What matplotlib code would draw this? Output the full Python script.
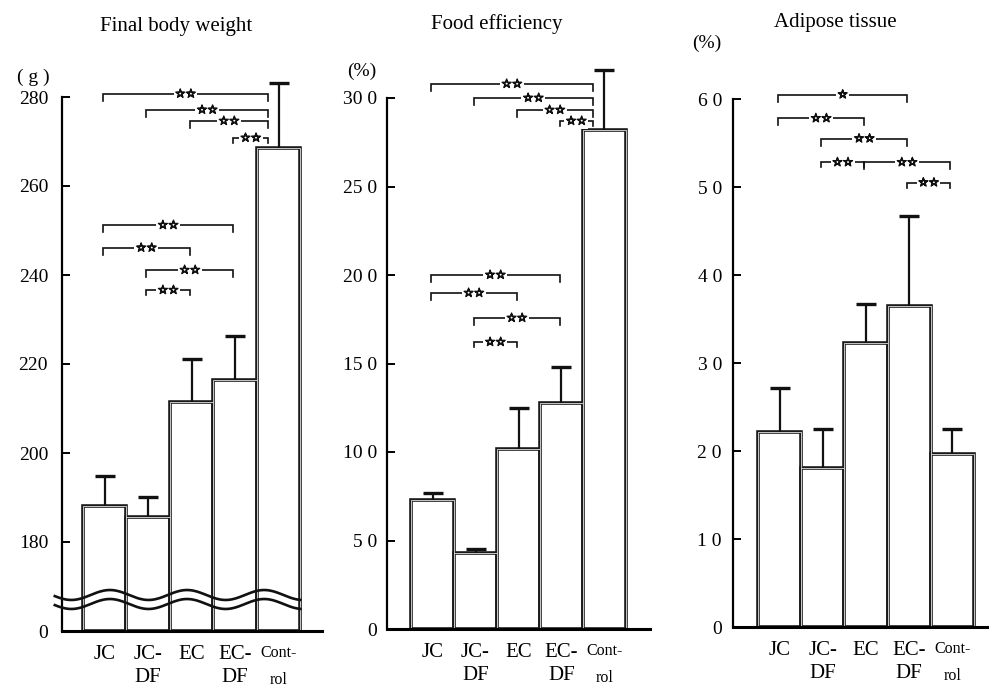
import numpy as np
import matplotlib
matplotlib.use("Agg")
import matplotlib.pyplot as plt
import matplotlib.patheffects as pe

plt.rcParams['font.family'] = ['Liberation Serif', 'DejaVu Serif']

# ---------------- data ----------------
categories = ["JC", "JC-\nDF", "EC", "EC-\nDF", "Cont-\nrol"]

weight_mean = [188.1, 185.6, 211.4, 216.4, 268.5]
weight_sd = [6.7, 4.5, 9.8, 9.9, 14.6]
weight_ticks = [160, 180, 200, 220, 240, 260, 280]
weight_ticklabels = ["0", "180", "200", "220", "240", "260", "280"]

food_mean = [7.29, 4.29, 10.17, 12.77, 28.19]
food_sd = [0.39, 0.23, 2.32, 2.03, 3.39]
food_ticks = [0, 5, 10, 15, 20, 25, 30]
food_ticklabels = ["0", "5 0", "10 0", "15 0", "20 0", "25 0", "30 0"]

adipose_mean = [2.22, 1.81, 3.23, 3.65, 1.97]
adipose_sd = [0.50, 0.44, 0.44, 1.02, 0.28]
adipose_ticks = [0, 1, 2, 3, 4, 5, 6]
adipose_ticklabels = ["0", "1 0", "2 0", "3 0", "4 0", "5 0", "6 0"]

# significance brackets: (group i, group j, height, label)
weight_sig = [(0, 4, 280.7, "**"), (1, 4, 277.1, "**"), (2, 4, 274.6, "**"),
              (3, 4, 270.8, "**"), (0, 3, 251.2, "**"), (0, 2, 246.1, "**"),
              (1, 3, 241.1, "**"), (1, 2, 236.6, "**")]
food_sig = [(0, 4, 30.79, "**"), (1, 4, 30.0, "**"), (2, 4, 29.32, "**"),
            (3, 4, 28.70, "**"), (0, 3, 20.0, "**"), (0, 2, 18.98, "**"),
            (1, 3, 17.57, "**"), (1, 2, 16.21, "**")]
adipose_sig = [(0, 3, 6.05, "*"), (0, 2, 5.78, "**"), (1, 3, 5.55, "**"),
               (1, 2, 5.28, "**"), (2, 4, 5.28, "**"), (3, 4, 5.05, "**")]

W, H = 989, 691
fig = plt.figure(figsize=(W / 100, H / 100), dpi=100)


def px_axes(left, right, top, bottom):
    return fig.add_axes([left / W, 1 - bottom / H, (right - left) / W, (bottom - top) / H])


def draw_panel(ax, means, sds, base, ylim, xlim, ticks, ticklabels, sig,
               ctrl_shift, label_pad):
    x = np.arange(len(means))
    heights = [m - base for m in means]
    ax.bar(x, heights, bottom=base, width=1.0, facecolor="white",
           edgecolor="#1a1a1a", linewidth=2.6, zorder=2)
    ax.bar(x, heights, bottom=base, width=1.0, facecolor="none",
           edgecolor="#c8c8c8", linewidth=0.7, zorder=2.1)
    _, caps, _ = ax.errorbar(x, means, yerr=[np.zeros(len(sds)), sds], fmt="none",
                             ecolor="#111111", elinewidth=1.6, capsize=7,
                             capthick=2.4, zorder=3)
    caps[0].set_visible(False)  # no cap at the bar top
    ax.set_xlim(*xlim)
    ax.set_ylim(*ylim)
    for s in ["top", "right"]:
        ax.spines[s].set_visible(False)
    ax.spines["left"].set_bounds(ticks[0], ticks[-1])
    ax.spines["left"].set_linewidth(1.6)
    ax.spines["bottom"].set_linewidth(2.2)
    ax.set_yticks(ticks)
    ax.set_yticklabels(ticklabels)
    ax.tick_params(axis="y", direction="in", length=6, width=1.4,
                   labelsize=14, pad=label_pad)
    ax.set_xticks(x)
    ax.set_xticklabels(categories, fontsize=15, linespacing=1.3)
    ax.tick_params(axis="x", length=0, pad=10)
    for lab in ax.get_xticklabels():
        if lab.get_text().startswith("Cont"):
            lab.set_fontsize(11.5)
            lab.set_linespacing(1.9)
    # data units per pixel
    bbox = ax.get_position()
    dy = (ylim[1] - ylim[0]) / (bbox.height * H)
    for (i, j, yv, lab) in sig:
        x1 = i - 0.04
        x2 = j - (ctrl_shift if j == 4 else 0.04)
        tick = (7 if j - i > 1 else 5) * dy
        ax.plot([x1, x1, x2, x2], [yv - tick, yv, yv, yv - tick],
                color="#111111", lw=1.2, zorder=4, solid_joinstyle="miter")
        ax.text((x1 + x2) / 2, yv, lab.replace("*", "\u2606"), ha="center",
                va="center", fontsize=8.5, family="DejaVu Sans",
                color="#111111", zorder=5,
                path_effects=[pe.withStroke(linewidth=0.9, foreground="#111111")],
                bbox=dict(facecolor="white", edgecolor="none", pad=1.0))


# Panel 1: Final body weight (broken axis, 0 placed at 160)
ax1 = px_axes(62, 322, 631 - 126 * 4.45, 631)
draw_panel(ax1, weight_mean, weight_sd, 160, (160, 286), (-0.98, 5.0),
           weight_ticks, weight_ticklabels, weight_sig, 0.24, 10)
# wavy break lines
pxs = np.linspace(55, 300, 300)
xd = (pxs - 83) / 43.4 - 0.5
wave = np.sin(2 * np.pi * (pxs - 90.75) / 77)
upper = 160 + (631 - 595) / 4.45 + 1.12 * wave
lower = 160 + (631 - 604) / 4.45 + 1.12 * wave
ax1.plot(xd, upper, color="#111111", lw=1.9, zorder=6, clip_on=False)
ax1.plot(xd, lower, color="#111111", lw=1.9, zorder=6, clip_on=False)

# Panel 2: Food efficiency
ax2 = px_axes(387, 650, 629 - 32 * 17.7, 629)
draw_panel(ax2, food_mean, food_sd, 0, (0, 32), (-1.06, 5.06),
           food_ticks, food_ticklabels, food_sig, 0.27, 7)

# Panel 3: Adipose tissue
ax3 = px_axes(733, 989, 627 - 6.4 * 88, 627)
draw_panel(ax3, adipose_mean, adipose_sd, 0, (0, 6.4), (-1.08, 4.85),
           adipose_ticks, adipose_ticklabels, adipose_sig, 0.06, 8)

# titles and unit labels
def ftext(xp, yp, s, **kw):
    fig.text(xp / W, 1 - yp / H, s, ha="center", va="center", **kw)

ftext(176, 27, "Final body weight", fontsize=15)
ftext(497, 24, "Food efficiency", fontsize=15)
ftext(835, 22, "Adipose tissue", fontsize=15)
ftext(33, 77, "( g )", fontsize=14)
ftext(362, 71, "(%)", fontsize=14)
ftext(707, 43, "(%)", fontsize=14)

fig.savefig("out.png", dpi=100)
